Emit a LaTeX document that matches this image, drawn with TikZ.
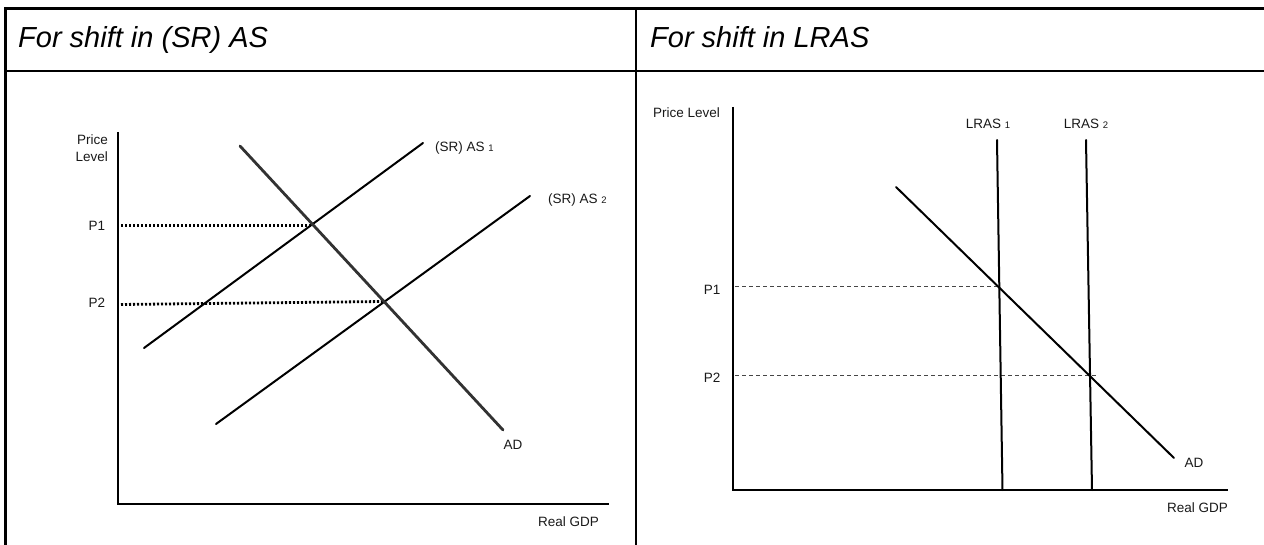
\documentclass[tikz,border=0pt]{standalone}
\usepackage{fontspec}
\setmainfont{Liberation Sans}
\begin{document}
\begin{tikzpicture}[x=1pt,y=-1pt,
  rule/.style={line width=2.6pt,line cap=rect},
  axis/.style={line width=2pt},
  curve/.style={line width=2pt,line cap=round},
  adthick/.style={line width=2.8pt,line cap=round,draw={rgb,255:red,50;green,50;blue,50}},
  dotline/.style={line width=2.8pt,dash pattern=on 2.2pt off 1.8pt},
  dashline/.style={line width=0.8pt,dash pattern=on 4pt off 3pt,draw={rgb,255:red,70;green,70;blue,70}},
  head/.style={font=\fontsize{29}{33}\selectfont\itshape,anchor=base west,inner sep=0pt},
  lbl/.style={font=\fontsize{13.5}{15}\selectfont,text={rgb,255:red,25;green,25;blue,25},inner sep=0pt},
]
\useasboundingbox (0,0) rectangle (1264,545);

% table frame
\draw[rule] (5.5,8.5) -- (1264,8.5);
\draw[rule] (5.5,71) -- (1264,71);
\draw[rule] (5.5,8.5) -- (5.5,545);
\draw[rule] (636,8.5) -- (636,545);

\node[head] (h1) at (18,48) {For shift in (SR) AS};
\node[head] (h2) at (650,48) {For shift in LRAS};

% ---------- left panel: shift in short-run AS ----------
\coordinate (yTopL) at (118,132);
\coordinate (oL) at (118,504);
\coordinate (xEndL) at (609,504);
\draw[axis] (yTopL) -- (oL) -- (xEndL);

\coordinate (as1a) at (144,348);
\coordinate (as1b) at (423,143);
\coordinate (as2a) at (216,424);
\coordinate (as2b) at (530,196);
\coordinate (ada) at (240,146);
\coordinate (adb) at (503,430);
\coordinate (e1) at (313,225.5);
\coordinate (e2) at (383,301.5);
\coordinate (p1L) at (121,225.5);
\coordinate (p2L) at (121,304.5);

\draw[dotline] (p1L) -- (e1);
\draw[dotline] (p2L) -- (e2);
\draw[curve] (as1a) -- (as1b);
\draw[curve] (as2a) -- (as2b);
\draw[adthick] (ada) -- (adb);

\node[lbl,align=right,anchor=east] (plL) at (108,148) {Price\\[2.5pt]Level};
\node[lbl] (P1L) at (97,226) {P1};
\node[lbl] (P2L) at (97,303) {P2};
\node[lbl,anchor=west] (as1l) at (435,148) {(SR) AS {\fontsize{9.5}{9.5}\selectfont 1}};
\node[lbl,anchor=west] (as2l) at (548,200) {(SR) AS {\fontsize{9.5}{9.5}\selectfont 2}};
\node[lbl] (adl) at (513,445) {AD};
\node[lbl,anchor=east] (gdpL) at (599,522) {Real GDP};

% ---------- right panel: shift in LRAS ----------
\coordinate (yTopR) at (733,107);
\coordinate (oR) at (733,490);
\coordinate (xEndR) at (1228,490);
\draw[axis] (yTopR) -- (oR) -- (xEndR);

\coordinate (lr1a) at (997,140);
\coordinate (lr1b) at (1002.5,490);
\coordinate (lr2a) at (1086,140);
\coordinate (lr2b) at (1092,490);
\coordinate (adRa) at (896,187);
\coordinate (adRb) at (1174,458);
\coordinate (f1) at (999,286);
\coordinate (f2) at (1090,375.5);
\coordinate (p1R) at (735,286);
\coordinate (p2R) at (735,375.5);
\coordinate (p2Rend) at (1097,375.5);

\draw[dashline] (p1R) -- (f1);
\draw[dashline] (p2R) -- (p2Rend);
\draw[curve] (lr1a) -- (lr1b);
\draw[curve] (lr2a) -- (lr2b);
\draw[curve] (adRa) -- (adRb);

\node[lbl,anchor=east] (plR) at (720,113) {Price Level};
\node[lbl] (P1R) at (712,290) {P1};
\node[lbl] (P2R) at (712,378) {P2};
\node[lbl] (lr1l) at (988,124) {LRAS {\fontsize{9.5}{9.5}\selectfont 1}};
\node[lbl] (lr2l) at (1086,124) {LRAS {\fontsize{9.5}{9.5}\selectfont 2}};
\node[lbl] (adRl) at (1194,463) {AD};
\node[lbl,anchor=east] (gdpR) at (1228,508) {Real GDP};
\end{tikzpicture}
\end{document}
